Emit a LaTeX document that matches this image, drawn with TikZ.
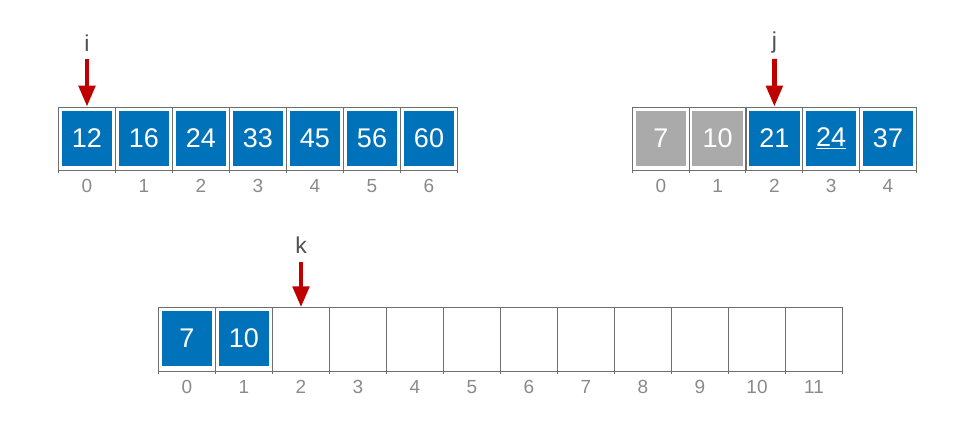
\documentclass[tikz,border=0pt]{standalone}
\usepackage{fontspec}
\setmainfont{Liberation Sans}
\usetikzlibrary{arrows.meta}
\definecolor{cellblue}{RGB}{0,114,185}
\definecolor{cellgrey}{RGB}{170,170,170}
\definecolor{framegrey}{RGB}{110,110,110}
\definecolor{idxgrey}{RGB}{138,138,138}
\definecolor{ptrred}{RGB}{190,0,0}
\definecolor{ptrtext}{RGB}{80,80,80}
\tikzset{
  cellbox/.style={draw=framegrey, line width=0.9pt, minimum width=57pt, minimum height=63.6pt, inner sep=0pt, outer sep=0pt},
  valbox/.style={fill=cellblue, text=white, minimum width=50.5pt, minimum height=55pt, inner sep=0pt, font=\fontsize{27}{27}\selectfont},
  oldbox/.style={valbox, fill=cellgrey},
  idxlabel/.style={text=idxgrey, font=\fontsize{19}{19}\selectfont, inner sep=0pt},
  ptrlabel/.style={text=ptrtext, font=\fontsize{23}{23}\selectfont, inner sep=0pt},
  ptrarrow/.style={draw=ptrred, line width=4.8pt, -{Triangle[width=16pt,length=21pt]}, shorten >=0.5pt},
  tickline/.style={draw=framegrey, line width=0.9pt}
}
\begin{document}
\begin{tikzpicture}[x=1pt,y=-1pt]
\useasboundingbox (0,0) rectangle (972,428);
% ---------- top-left array
\foreach \v [count=\n from 0] in {12,16,24,33,45,56,60} {
  \node[cellbox] (a\n) at (87+57*\n,139) {};
  \node[valbox] (av\n) at ([yshift=1pt]a\n.center) {\v};
  \node[idxlabel] (ai\n) at (87+57*\n,186) {\n};
  \draw[tickline] (a\n.south west) -- ++(0,2.5);
}
\draw[tickline] (a6.south east) -- ++(0,2.5);
\node[ptrlabel] (pi) at (87,43) {i};
\coordinate (pis) at (87,59);
\draw[ptrarrow] (pis) -- (a0.north);
% ---------- top-right array
\foreach \v/\s [count=\n from 0] in {7/oldbox,10/oldbox,21/valbox,\underline{24}/valbox,37/valbox} {
  \node[cellbox] (b\n) at (660.8+56.8*\n,139) {};
  \node[\s] (bv\n) at ([yshift=1pt]b\n.center) {\v};
  \node[idxlabel] (bi\n) at (660.8+56.8*\n,186) {\n};
  \draw[tickline] (b\n.south west) -- ++(0,2.5);
}
\draw[tickline] (b4.south east) -- ++(0,2.5);
\node[ptrlabel] (pj) at (774.4,43) {j};
\coordinate (pjs) at (774.4,59);
\draw[ptrarrow] (pjs) -- (b2.north);
% ---------- bottom array
\foreach \n in {0,...,11} {
  \node[cellbox] (c\n) at (187+57*\n,339.7) {};
  \node[idxlabel] (ci\n) at (187+57*\n,387) {\n};
  \draw[tickline] (c\n.south west) -- ++(0,2.5);
}
\draw[tickline] (c11.south east) -- ++(0,2.5);
\node[valbox] (cv0) at ([yshift=1pt]c0.center) {7};
\node[valbox] (cv1) at ([yshift=1pt]c1.center) {10};
\node[ptrlabel] (pk) at (301,245) {k};
\coordinate (pks) at (301,261.5);
\draw[ptrarrow] (pks) -- (c2.north);
\end{tikzpicture}
\end{document}
